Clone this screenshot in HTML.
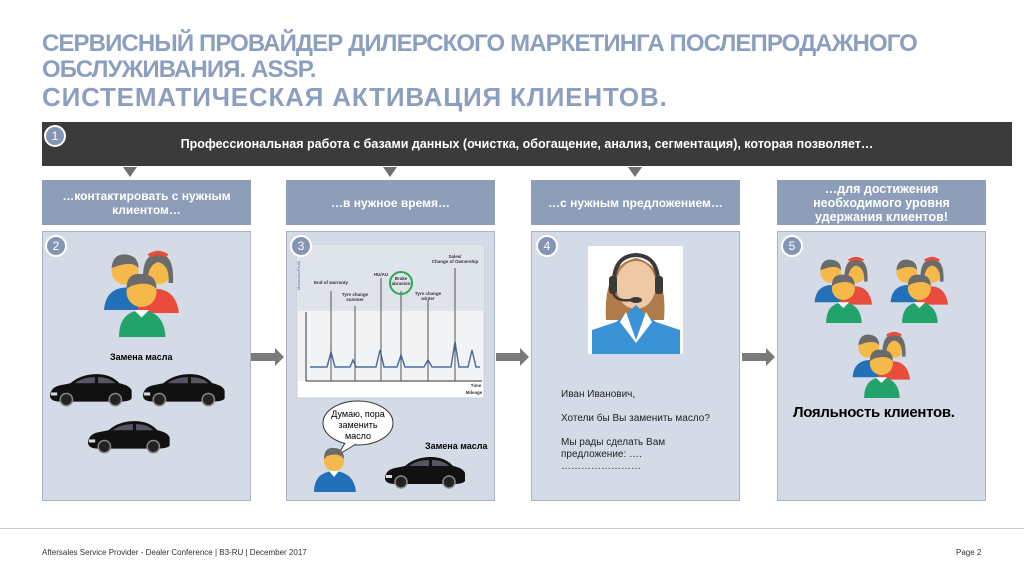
<!DOCTYPE html>
<html><head><meta charset="utf-8"><style>
*{margin:0;padding:0;box-sizing:border-box}
body{width:1024px;height:576px;background:#fff;font-family:"Liberation Sans","Noto Sans CJK SC",sans-serif;position:relative;overflow:hidden}
.t{position:absolute;left:42px;color:#8c9fbf;font-weight:bold;white-space:nowrap}
.bar{position:absolute;left:42px;top:122px;width:970px;height:44px;background:#3b3b3b;color:#fff;font-size:12.5px;font-weight:bold;line-height:44px;text-align:center}
.hd{position:absolute;top:180px;width:209px;height:45px;background:#8e9eb9;color:#fff;font-size:12px;font-weight:bold;display:flex;align-items:center;justify-content:center;text-align:center;line-height:14px}
.pn{position:absolute;top:231px;width:209px;height:270px;background:#d4dbe7;border:1px solid #aab4c6}
.num{position:absolute;width:22px;height:22px;border-radius:50%;background:#8496b4;border:2px solid #fff;color:#fff;font-size:12px;line-height:18px;text-align:center;z-index:5}
.da{position:absolute;top:167px;width:0;height:0;border-left:7px solid transparent;border-right:7px solid transparent;border-top:10px solid #707070}
.ra{position:absolute;top:353px;width:24px;height:8px;background:#7a7a7a}
.ra:after{content:"";position:absolute;left:24px;top:-5px;border-top:9px solid transparent;border-bottom:9px solid transparent;border-left:9px solid #7a7a7a}
.s{position:absolute;white-space:nowrap}
</style></head><body>
<div class="t" style="top:30px;font-size:24px;letter-spacing:-0.9px">СЕРВИСНЫЙ ПРОВАЙДЕР ДИЛЕРСКОГО МАРКЕТИНГА ПОСЛЕПРОДАЖНОГО</div>
<div class="t" style="top:56px;font-size:24px;letter-spacing:-0.9px">ОБСЛУЖИВАНИЯ. ASSP.</div>
<div class="t" style="top:82px;font-size:26px;letter-spacing:0.8px">СИСТЕМАТИЧЕСКАЯ АКТИВАЦИЯ КЛИЕНТОВ.</div>

<div class="bar">Профессиональная работа с базами данных (очистка, обогащение, анализ, сегментация), которая позволяет…</div>
<div class="num" style="left:44px;top:125px">1</div>
<div class="da" style="left:123px"></div><div class="da" style="left:383px"></div><div class="da" style="left:628px"></div>

<div class="hd" style="left:42px">…контактировать с нужным<br>клиентом…</div>
<div class="hd" style="left:286px">…в нужное время…</div>
<div class="hd" style="left:531px">…с нужным предложением…</div>
<div class="hd" style="left:777px;font-size:12.5px">…для достижения<br>необходимого уровня<br>удержания клиентов!</div>

<div class="pn" style="left:42px"></div>
<div class="pn" style="left:286px"></div>
<div class="pn" style="left:531px"></div>
<div class="pn" style="left:777px"></div>
<div class="num" style="left:45px;top:235px">2</div>
<div class="num" style="left:290px;top:235px">3</div>
<div class="num" style="left:536px;top:235px">4</div>
<div class="num" style="left:781px;top:235px">5</div>
<div class="ra" style="left:251px"></div><div class="ra" style="left:496px"></div><div class="ra" style="left:742px"></div>

<svg width="1024" height="576" style="position:absolute;left:0;top:0">
<defs>
<g id="grp">
 <circle cx="18" cy="16" r="9" fill="#f5b94a"/><path d="M9 14 Q10 4 19 5 Q27 6 27 14 Q23 9 12 13Z" fill="#6b6b6b"/>
 <path d="M4 42 Q5 28 18 27 Q30 28 31 42Z" fill="#2270b8"/>
 <circle cx="40" cy="16" r="9" fill="#f5b94a"/><path d="M30 24 Q29 4 40 5 Q51 4 50 24 L47 24 Q48 12 40 10 Q33 12 33 24Z" fill="#6b6b6b"/><path d="M33 5 Q40 0 47 5 L45 7 Q40 4 35 7Z" fill="#e84c3d"/>
 <path d="M26 44 Q27 29 40 28 Q52 29 54 44Z" fill="#e84c3d"/>
 <circle cx="29" cy="30" r="10" fill="#f5b94a"/><path d="M19 28 Q19 17 29 18 Q39 18 39 28 Q34 22 22 26Z" fill="#6b6b6b"/>
 <path d="M14 60 Q14 43 29 42 Q44 43 45 60Z" fill="#22a36b"/><path d="M24 42 L29 47 L34 42Z" fill="#fff"/>
</g>
<g id="car">
 <path d="M2 26 Q2 17 12 15 L22 13 Q32 4 48 4 Q62 4 70 13 Q80 15 82 20 L82 28 Q80 31 70 31 L12 31 Q3 31 2 26Z" fill="#111"/>
 <path d="M26 13 Q34 7 46 7 L46 13Z M49 7 Q60 7 66 13 L49 13Z" fill="#556"/>
 <circle cx="18" cy="29" r="6" fill="#222" stroke="#888" stroke-width="1.5"/><circle cx="66" cy="29" r="6" fill="#222" stroke="#888" stroke-width="1.5"/>
 <rect x="3" y="22" width="6" height="3" fill="#ddd"/>
</g>
</defs>
<use href="#grp" transform="translate(98,247) scale(1.5)"/>
<use href="#car" transform="translate(48,370) scale(1.02)"/>
<use href="#car" transform="translate(141,370) scale(1.02)"/>
<use href="#car" transform="translate(86,417) scale(1.02)"/>
<rect x="297" y="245" width="187" height="153" fill="#fff" stroke="#c8cdd6"/>
<rect x="298" y="246" width="185" height="65" fill="#dfe3ea"/>
<rect x="298" y="311" width="185" height="70" fill="#f2f3f5"/>
<line x1="306" y1="312" x2="306" y2="381" stroke="#333"/><line x1="306" y1="381" x2="482" y2="381" stroke="#333"/>
<polyline points="310,367 327,367 331,352 335,367 350,367 353,360 356,367 376,367 380,350 384,367 397,367 401,355 405,367 424,367 428,360 432,367 451,367 455,342 459,367 468,367 472,350 476,367 480,367" fill="none" stroke="#4d6fa8" stroke-width="1.5"/>
<g stroke="#555" stroke-width="1"><line x1="331" y1="291" x2="331" y2="381"/><line x1="355" y1="306" x2="355" y2="381"/><line x1="381" y1="278" x2="381" y2="381"/><line x1="401" y1="291" x2="401" y2="381"/><line x1="428" y1="300" x2="428" y2="381"/><line x1="455" y1="268" x2="455" y2="381"/></g>
<circle cx="401" cy="283" r="11" fill="none" stroke="#2aa854" stroke-width="2"/>
<g font-size="4.5" font-weight="bold" fill="#333" text-anchor="middle">
<text x="331" y="284">End of warranty</text><text x="355" y="296">Tyre change</text><text x="355" y="301">summer</text>
<text x="381" y="276">HU/AU</text><text x="401" y="280">Brake</text><text x="401" y="285">abrasion</text>
<text x="428" y="295">Tyre change</text><text x="428" y="300">winter</text>
<text x="455" y="258">Sales/</text><text x="455" y="263">Change of Ownership</text>
<text x="476" y="387">Time</text><text x="474" y="394">Mileage</text></g>
<text x="300" y="290" font-size="4" fill="#4d6fa8" transform="rotate(-90 300 290)">MomentsofTruth</text>
<ellipse cx="358" cy="423" rx="35" ry="22" fill="#fff" stroke="#333"/>
<path d="M345 443 L338 455 L356 444" fill="#fff" stroke="#333"/>
<text x="358" y="417" font-size="9" text-anchor="middle">Думаю, пора</text>
<text x="358" y="428" font-size="9" text-anchor="middle">заменить</text>
<text x="358" y="439" font-size="9" text-anchor="middle">масло</text>
<circle cx="334" cy="461" r="10" fill="#f5b94a"/><path d="M324 459 Q324 447 334 448 Q344 448 344 459 Q339 452 327 456Z" fill="#6b6b6b"/>
<path d="M314 492 Q314 472 334 471 Q354 472 356 492Z" fill="#2270b8"/><path d="M329 471 L334 477 L339 471Z" fill="#fff"/>
<use href="#car" transform="translate(383,453)"/>
<rect x="588" y="246" width="95" height="108" fill="#fff"/>
<path d="M606 320 Q603 265 636 258 Q668 265 664 320Z" fill="#b07b4a"/>
<ellipse cx="636" cy="285" rx="20" ry="24" fill="#efc9a6"/>
<path d="M636 305 L625 315 L616 322 L592 330 L592 354 L680 354 L680 330 L656 322 L646 315Z" fill="#3b93d6"/>
<path d="M626 312 L636 340 L646 312 L652 322 L636 343 L620 322Z" fill="#fff"/>
<path d="M614 288 Q612 256 636 255 Q660 256 658 288" fill="none" stroke="#3a3a3a" stroke-width="4"/>
<rect x="609" y="276" width="8" height="18" rx="3" fill="#3a3a3a"/><rect x="655" y="276" width="8" height="18" rx="3" fill="#3a3a3a"/>
<path d="M613 292 Q615 302 632 300" fill="none" stroke="#3a3a3a" stroke-width="2.5"/><ellipse cx="636" cy="300" rx="6" ry="3" fill="#3a3a3a"/>
<use href="#grp" transform="translate(810,254) scale(1.15)"/>
<use href="#grp" transform="translate(886,254) scale(1.15)"/>
<use href="#grp" transform="translate(848,329) scale(1.15)"/>
</svg>
<div class="s" style="left:110px;top:352px;font-size:9px;font-weight:bold">Замена масла</div>
<div class="s" style="left:425px;top:441px;font-size:9px;font-weight:bold">Замена масла</div>
<div class="s" style="left:561px;top:389px;font-size:10px;color:#222;line-height:12px">Иван Иванович,<br><br>Хотели бы Вы заменить масло?<br><br>Мы рады сделать Вам<br>предложение: ….<br>……………………</div>
<div class="s" style="left:793px;top:404px;font-size:15px;font-weight:bold;letter-spacing:-0.3px">Лояльность клиентов.</div>
<div style="position:absolute;left:0;top:528px;width:1024px;height:1px;background:#ccc"></div>
<div class="s" style="left:42px;top:548px;font-size:8px;color:#333">Aftersales Service Provider - Dealer Conference | B3-RU | December 2017</div>
<div class="s" style="left:956px;top:548px;font-size:8px;color:#333">Page 2</div>
</body></html>
